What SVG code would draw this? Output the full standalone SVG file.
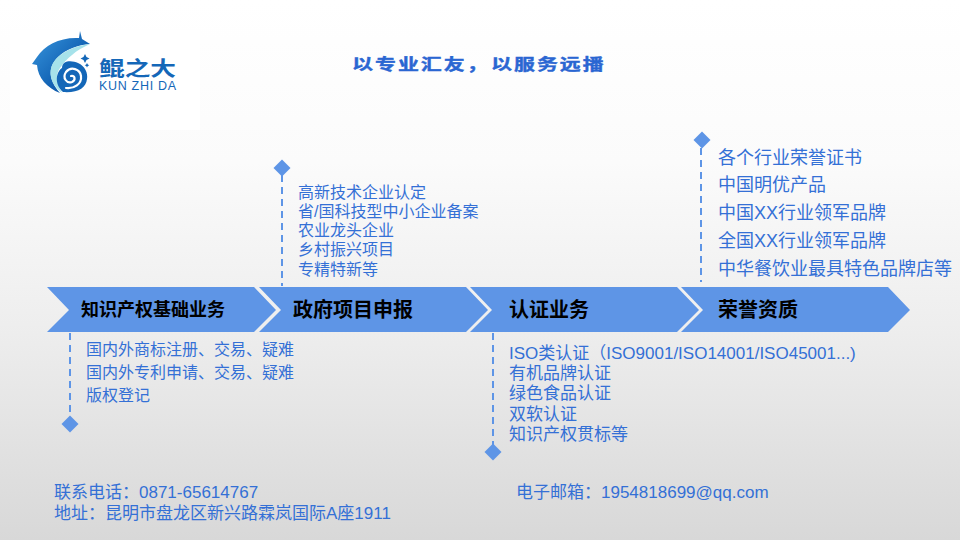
<svg xmlns="http://www.w3.org/2000/svg" width="960" height="540" viewBox="0 0 960 540">
<defs>
<linearGradient id="bg" x1="0" y1="0" x2="0" y2="1"><stop offset="0" stop-color="#ffffff"/><stop offset="0.3" stop-color="#fbfbfb"/><stop offset="0.6" stop-color="#eeeeee"/><stop offset="1" stop-color="#d8d8d8"/></linearGradient>
<linearGradient id="whale" x1="0" y1="0" x2="1" y2="1"><stop offset="0" stop-color="#3b9ae0"/><stop offset="0.6" stop-color="#1262b4"/><stop offset="1" stop-color="#0d4f9c"/></linearGradient>
<polygon id="dia" points="0,-8.500 8.500,0 0,8.500 -8.500,0"/>
</defs>
<style>
text{font-family:"Liberation Sans","Noto Sans CJK SC",sans-serif}
.t{fill:#3470d6}
.s16{font-size:16px}.s17{font-size:17px}.s18{font-size:18px}
.h{font-size:20px;font-weight:bold;fill:#000}
.chev{fill:#5e95e6}
.lead{fill:none;stroke:#5e95e6;stroke-width:2;stroke-dasharray:7 5}
.mark{fill:#5e95e6}
.sl{font-size:15.500px;font-weight:bold;fill:#2a66d2;stroke:#2a66d2;stroke-width:.4;letter-spacing:1.500px}
</style>
<rect width="960" height="540" fill="url(#bg)"/>
<g id="logo">
<rect x="10" y="30" width="190" height="100" fill="#fff"/>
<path d="M80 31L82 39L90 44C78 45 66 49 58 57C49 66 47 78 60 93C47 88 38 78 37 65L32 64L37 57C45 45 60 37 79 38Z" fill="url(#whale)"/>
<path d="M90 44C74 46 60 52 53 63C48 72 50 84 62 93C57 84 55 74 60 68C66 59 76 50 90 44Z" fill="#a6e2ea"/>
<path d="M63 92C54 84 56 72 62 68C62 60 72 60 78 63C85 66 88 73 87 79C86 88 78 93 63 92Z" fill="#1467b8"/>
<path d="M66 88C74 89 82 84 81 76C80 69 71 66 66 72C62 78 67 84 72 82C76 80 75 75 71 76" fill="none" stroke="#fff" stroke-width="2.200" stroke-linecap="round"/>
<path d="M85 54l1.500 3 3 1.500-3 1.500-1.500 3-1.500-3-3-1.500 3-1.500zM87 63l.8 1.500 1.500.8-1.500.8-.8 1.500-.8-1.500-1.500-.8 1.500-.8z" fill="#1467b8"/>
<text x="99" y="76" font-size="20" font-weight="bold" fill="#1467b8" textLength="77" lengthAdjust="spacingAndGlyphs">鲲之大</text>
<text x="99" y="90" font-size="12.500" fill="#1467b8" textLength="77" lengthAdjust="spacing">KUN ZHI DA</text>
</g>
<g id="slogan"><text class="sl" transform="translate(352 70) scale(1.35 1)">以专业汇友&#xFF0C;</text><text class="sl" transform="translate(491 70) scale(1.35 1)">以服务远播</text></g>
<g id="connectors">
<line class="lead" x1="70" y1="333" x2="70" y2="416"/>
<line class="lead" x1="282" y1="175" x2="282" y2="286"/>
<line class="lead" x1="493" y1="333" x2="493" y2="445"/>
<line class="lead" x1="701" y1="148" x2="701" y2="282"/>
</g>
<g id="node1">
<polygon class="chev" points="47,287 254,287 276,310 254,332 47,332 69,310"/>
<text class="h" style="font-size:18px" x="81" y="316">知识产权基础业务</text>
<use href="#dia" class="mark" x="70" y="424"/>
<text class="t s16" x="86" y="355">国内外商标注册、交易、疑难</text>
<text class="t s16" x="86" y="378">国内外专利申请、交易、疑难</text>
<text class="t s16" x="86" y="401">版权登记</text>
</g>
<g id="node2">
<polygon class="chev" points="259,287 466,287 488,310 466,332 259,332 281,310"/>
<text class="h" x="293" y="317">政府项目申报</text>
<use href="#dia" class="mark" x="282" y="168"/>
<text class="t s16" x="298" y="198">高新技术企业认定</text>
<text class="t s16" x="298" y="217">省/国科技型中小企业备案</text>
<text class="t s16" x="298" y="236">农业龙头企业</text>
<text class="t s16" x="298" y="255">乡村振兴项目</text>
<text class="t s16" x="298" y="275">专精特新等</text>
</g>
<g id="node3">
<polygon class="chev" points="470,287 677,287 699,310 677,332 470,332 492,310"/>
<text class="h" x="509" y="317">认证业务</text>
<use href="#dia" class="mark" x="493" y="452"/>
<text class="t s17" x="509" y="359">ISO类认证&#xFF08;ISO9001/ISO14001/ISO45001...)</text>
<text class="t s17" x="509" y="379">有机品牌认证</text>
<text class="t s17" x="509" y="399">绿色食品认证</text>
<text class="t s17" x="509" y="420">双软认证</text>
<text class="t s17" x="509" y="440">知识产权贯标等</text>
</g>
<g id="node4">
<polygon class="chev" points="681,287 888,287 910,310 888,332 681,332 703,310"/>
<text class="h" x="718" y="317">荣誉资质</text>
<use href="#dia" class="mark" x="702" y="140"/>
<text class="t s18" x="718" y="164">各个行业荣誉证书</text>
<text class="t s18" x="718" y="191">中国明优产品</text>
<text class="t s18" x="718" y="219">中国XX行业领军品牌</text>
<text class="t s18" x="718" y="247">全国XX行业领军品牌</text>
<text class="t s18" x="718" y="275">中华餐饮业最具特色品牌店等</text>
</g>
<g id="contact">
<text class="t s17" x="54" y="498">联系电话&#xFF1A;0871-65614767</text>
<text class="t s17" x="54" y="519">地址&#xFF1A;昆明市盘龙区新兴路霖岚国际A座1911</text>
<text class="t s17" x="516" y="498">电子邮箱&#xFF1A;1954818699@qq.com</text>
</g>
</svg>
